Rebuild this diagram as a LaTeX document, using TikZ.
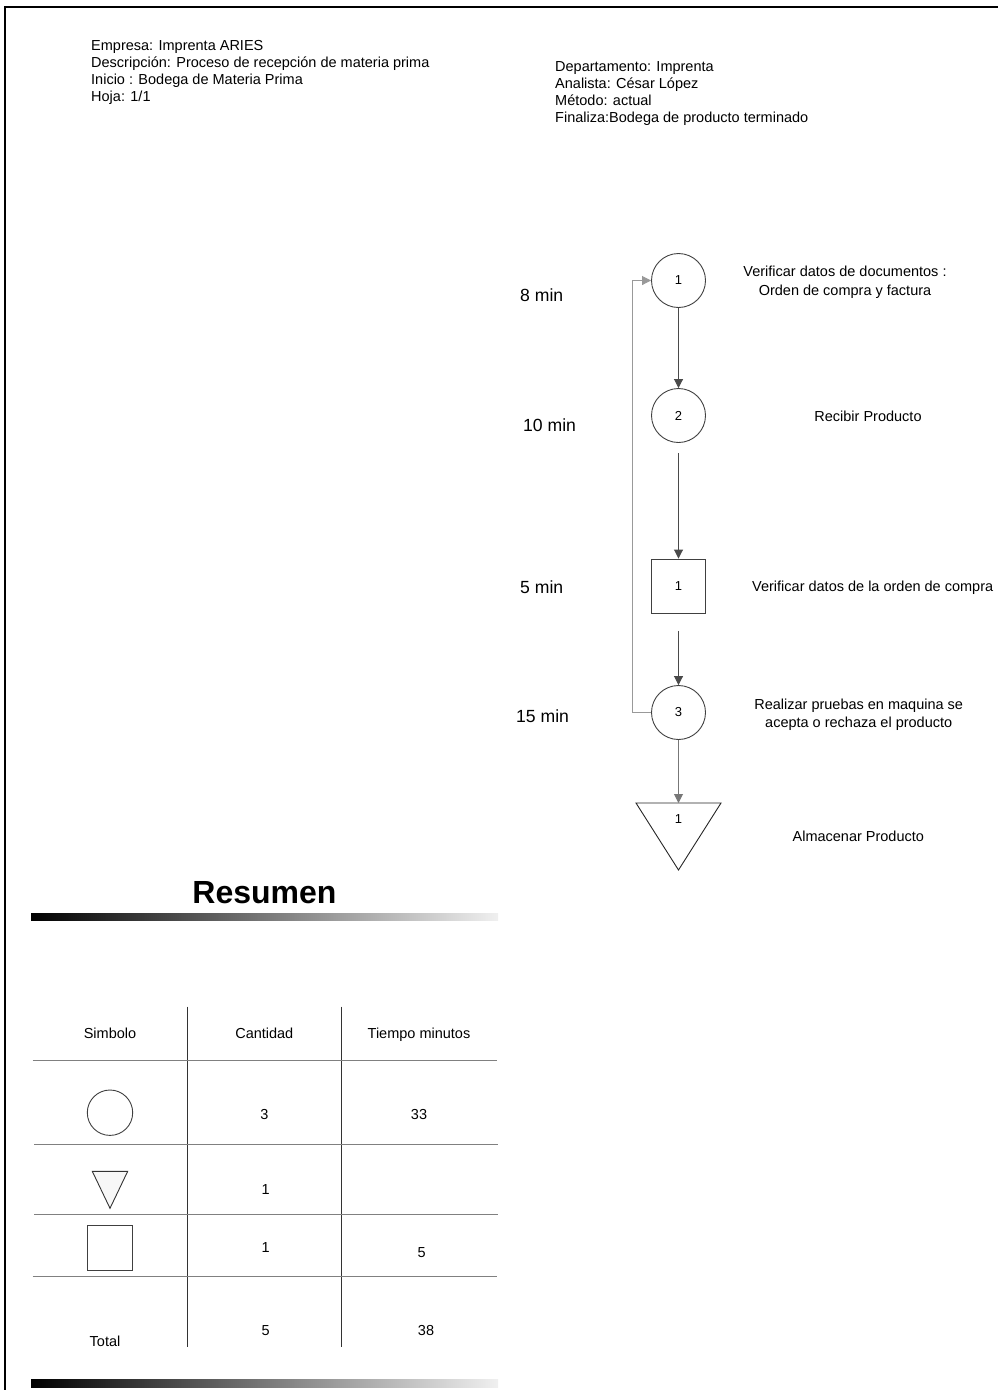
\documentclass[tikz,border=0pt]{standalone}
\usepackage{fontspec}
\setmainfont{Liberation Sans}
\usetikzlibrary{arrows.meta}

\definecolor{shapeline}{HTML}{404040}
\definecolor{arrowdark}{HTML}{4A4A4A}
\definecolor{arrowmid}{HTML}{777777}
\definecolor{arrowlight}{HTML}{999999}
\definecolor{rulegray}{HTML}{808080}
\definecolor{ruledark}{HTML}{333333}

\begin{document}
\begin{tikzpicture}[x=1pt,y=-1pt,
  txt/.style={inner sep=0pt, font=\fontsize{14.5}{16}\selectfont},
  timelbl/.style={inner sep=0pt, anchor=base west, font=\fontsize{17.6}{20}\selectfont},
  opcircle/.style={circle, draw=shapeline, line width=0.9pt, minimum size=54pt, inner sep=0pt, font=\fontsize{13}{15}\selectfont},
  inspbox/.style={rectangle, draw=shapeline, line width=0.9pt, minimum size=54pt, inner sep=0pt, font=\fontsize{13}{15}\selectfont},
  flowarrow/.style={draw=arrowdark, line width=0.9pt, -{Triangle[length=9pt,width=9pt]}},
  tablerule/.style={draw=rulegray, line width=0.9pt},
  tablecol/.style={draw=ruledark, line width=1pt},
  fadebar/.style={left color=black, right color=black!6},
]
\useasboundingbox (0,0) rectangle (998,1390);

% page frame
\draw[line width=2pt] (5,1390) -- (5,6.7) -- (998,6.7);

% header, left block
\node[txt, anchor=base west] (h1) at (91,50) {Empresa: Imprenta ARIES};
\node[txt, anchor=base west] (h2) at (91,67) {Descripción: Proceso de recepción de materia prima};
\node[txt, anchor=base west] (h3) at (91,84) {Inicio : Bodega de Materia Prima};
\node[txt, anchor=base west] (h4) at (91,101) {Hoja: 1/1};

% header, right block
\node[txt, anchor=base west] (r1) at (555,71.5) {Departamento: Imprenta};
\node[txt, anchor=base west] (r2) at (555,88.5) {Analista: César López};
\node[txt, anchor=base west] (r3) at (555,105.5) {Método: actual};
\node[txt, anchor=base west] (r4) at (555,122.5) {Finaliza:Bodega de producto terminado};

% process symbols
\node[opcircle] (c1) at (678.5,280.5) {1};
\node[opcircle] (c2) at (678.5,415.5) {2};
\node[inspbox]  (sq) at (678.5,586) {1};
\node[opcircle] (c3) at (678.5,712.5) {3};
\coordinate (tl) at (636,803);
\coordinate (tr) at (721,803);
\coordinate (tb) at (678.5,870);
\coordinate (ttop) at (678.5,803);
\draw[draw=black!85, line width=0.9pt] (tl) -- (tr) -- (tb) -- cycle;
\node[inner sep=0pt, font=\fontsize{13}{15}\selectfont] (tlab) at (678.5,819) {1};

% connectors
\draw[flowarrow] (c1.south) -- (c2.north);
\draw[flowarrow, shorten <=10.5pt] (c2.south) -- (sq.north);
\draw[flowarrow, shorten <=17.5pt] (sq.south) -- (c3.north);
\draw[flowarrow, draw=arrowmid] (c3.south) -- (ttop);
\coordinate (loopx) at (632.3,500);
\draw[flowarrow, draw=arrowlight] (c3.west) -- (c3.west -| loopx) |- (c1.west);

% step times
\node[timelbl] (t1) at (520,301.3) {8 min};
\node[timelbl] (t2) at (523,431.3) {10 min};
\node[timelbl] (t3) at (520,593) {5 min};
\node[timelbl] (t4) at (516,722.3) {15 min};

% step descriptions
\node[txt, anchor=base] (d1a) at (845,276) {Verificar datos de documentos :};
\node[txt, anchor=base] (d1b) at (845,295) {Orden de compra y factura};
\node[txt, anchor=base] (d2) at (868,421) {Recibir Producto};
\node[txt, anchor=base west] (d3) at (752,591) {Verificar datos de la orden de compra};
\node[txt, anchor=base] (d4a) at (858.7,709.2) {Realizar pruebas en maquina se};
\node[txt, anchor=base] (d4b) at (858.7,727.9) {acepta o rechaza el producto};
\node[txt, anchor=base] (d5) at (858.3,841) {Almacenar Producto};

% summary title and bars
\node[inner sep=0pt, anchor=base, font=\fontsize{32}{36}\bfseries] (res) at (264.5,903) {Resumen};
\shade[fadebar] (31,913) rectangle (498,920);
\shade[fadebar] (31,1379) rectangle (498,1387);

% summary table rules
\draw[tablecol] (187.3,1006.7) -- (187.3,1346.7);
\draw[tablecol] (341.7,1006.7) -- (341.7,1346.7);
\draw[tablerule] (32.7,1060.7) -- (496.7,1060.7);
\draw[tablerule] (34,1144.3) -- (498,1144.3);
\draw[tablerule] (34,1214.3) -- (498,1214.3);
\draw[tablerule] (32.7,1276.7) -- (496.7,1276.7);

% table headings
\node[txt, anchor=base] (th1) at (110,1038.5) {Simbolo};
\node[txt, anchor=base] (th2) at (264.3,1038.5) {Cantidad};
\node[txt, anchor=base] (th3) at (419,1038.5) {Tiempo minutos};

% table symbols
\node[circle, draw=shapeline, line width=0.9pt, minimum size=45.4pt, inner sep=0pt] (sc) at (110,1112.7) {};
\draw[draw=black!80, fill=black!3, line width=0.9pt] (92.3,1171.3) -- (127.7,1171.3) -- (110,1208.3) -- cycle;
\node[rectangle, draw=shapeline, line width=0.9pt, minimum width=45.4pt, minimum height=44.7pt, inner sep=0pt] (ss) at (110,1247.7) {};

% table values
\node[txt, anchor=base] (v1) at (264.3,1119.2) {3};
\node[txt, anchor=base] (v2) at (419,1119.2) {33};
\node[txt, anchor=base] (v3) at (265.7,1194.2) {1};
\node[txt, anchor=base] (v4) at (265.7,1252.2) {1};
\node[txt, anchor=base] (v5) at (421.7,1257.5) {5};
\node[txt, anchor=base] (v6) at (105,1346) {Total};
\node[txt, anchor=base] (v7) at (265.7,1335.2) {5};
\node[txt, anchor=base] (v8) at (426,1335.2) {38};

\end{tikzpicture}
\end{document}
